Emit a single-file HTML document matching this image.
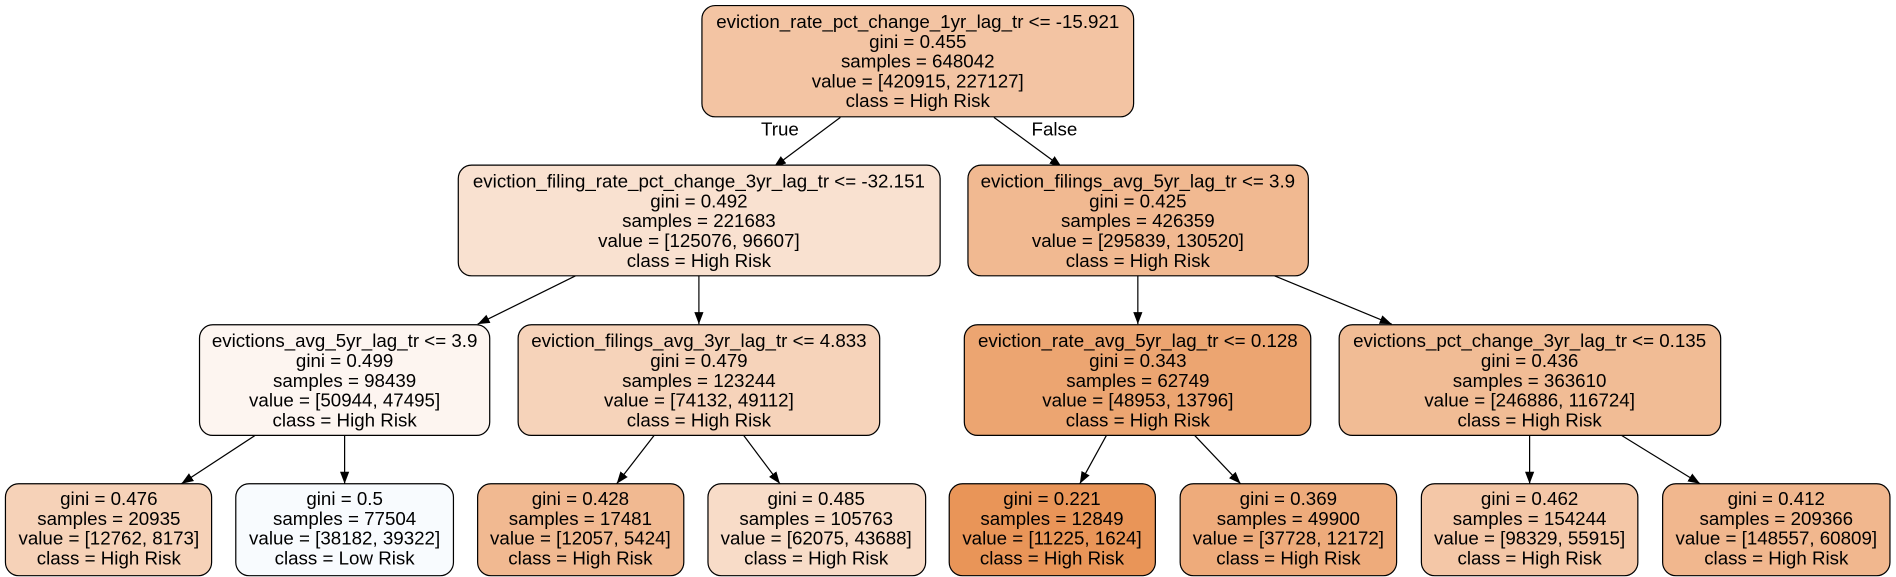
<!DOCTYPE html>
<html><head><meta charset="utf-8"><style>
html,body{margin:0;padding:0;background:#fff;}
svg{display:block}
text{font-family:"Liberation Sans",Arial,sans-serif;font-size:15.5px;fill:#000;text-anchor:middle}
rect{stroke:#000;stroke-width:1}
line{stroke:#000;stroke-width:1}
</style></head><body>
<svg width="1896" height="577" viewBox="0 0 1568 477" xmlns="http://www.w3.org/2000/svg">
<defs><marker id="a" viewBox="0 0 10 10" refX="10" refY="5" markerWidth="10" markerHeight="10" markerUnits="userSpaceOnUse" orient="auto"><path d="M0,1.2 L10,5 L0,8.8 z" fill="#000"/></marker></defs>
<g>
<line x1="695" y1="97" x2="640" y2="138" marker-end="url(#a)"/>
<line x1="822" y1="97" x2="878" y2="138" marker-end="url(#a)"/>
<line x1="476" y1="228" x2="395" y2="268" marker-end="url(#a)"/>
<line x1="578" y1="228" x2="578" y2="268" marker-end="url(#a)"/>
<line x1="941" y1="228" x2="941" y2="268" marker-end="url(#a)"/>
<line x1="1054" y1="228" x2="1151" y2="268" marker-end="url(#a)"/>
<line x1="211" y1="360" x2="150" y2="400" marker-end="url(#a)"/>
<line x1="285" y1="360" x2="285" y2="400" marker-end="url(#a)"/>
<line x1="541" y1="360" x2="510" y2="400" marker-end="url(#a)"/>
<line x1="615" y1="360" x2="645" y2="400" marker-end="url(#a)"/>
<line x1="915" y1="360" x2="893" y2="400" marker-end="url(#a)"/>
<line x1="988" y1="360" x2="1026" y2="400" marker-end="url(#a)"/>
<line x1="1265" y1="360" x2="1265" y2="400" marker-end="url(#a)"/>
<line x1="1341" y1="360" x2="1406" y2="400" marker-end="url(#a)"/>
</g>
<text x="645" y="112">True</text>
<text x="872" y="112">False</text>

<rect x="580.5" y="4.5" width="357" height="92" rx="11" fill="#f3c4a3"/>
<text x="759" y="23">eviction_rate_pct_change_1yr_lag_tr &lt;= -15.921<tspan x="759" dy="16.4">gini = 0.455</tspan><tspan x="759" dy="16.4">samples = 648042</tspan><tspan x="759" dy="16.4">value = [420915, 227127]</tspan><tspan x="759" dy="16.4">class = High Risk</tspan></text>

<rect x="379" y="136.5" width="398.5" height="91.5" rx="11" fill="#f9e1d0"/>
<text x="578" y="155">eviction_filing_rate_pct_change_3yr_lag_tr &lt;= -32.151<tspan x="578" dy="16.4">gini = 0.492</tspan><tspan x="578" dy="16.4">samples = 221683</tspan><tspan x="578" dy="16.4">value = [125076, 96607]</tspan><tspan x="578" dy="16.4">class = High Risk</tspan></text>

<rect x="800.5" y="136.5" width="281.5" height="91.5" rx="11" fill="#f1b991"/>
<text x="941" y="155">eviction_filings_avg_5yr_lag_tr &lt;= 3.9<tspan x="941" dy="16.4">gini = 0.425</tspan><tspan x="941" dy="16.4">samples = 426359</tspan><tspan x="941" dy="16.4">value = [295839, 130520]</tspan><tspan x="941" dy="16.4">class = High Risk</tspan></text>

<rect x="165" y="268.5" width="240" height="91.5" rx="11" fill="#fdf5f0"/>
<text x="285" y="287">evictions_avg_5yr_lag_tr &lt;= 3.9<tspan x="285" dy="16.4">gini = 0.499</tspan><tspan x="285" dy="16.4">samples = 98439</tspan><tspan x="285" dy="16.4">value = [50944, 47495]</tspan><tspan x="285" dy="16.4">class = High Risk</tspan></text>

<rect x="428.5" y="268.5" width="299" height="91.5" rx="11" fill="#f6d3ba"/>
<text x="578" y="287">eviction_filings_avg_3yr_lag_tr &lt;= 4.833<tspan x="578" dy="16.4">gini = 0.479</tspan><tspan x="578" dy="16.4">samples = 123244</tspan><tspan x="578" dy="16.4">value = [74132, 49112]</tspan><tspan x="578" dy="16.4">class = High Risk</tspan></text>

<rect x="797.5" y="268.5" width="286.5" height="91.5" rx="11" fill="#eca571"/>
<text x="941" y="287">eviction_rate_avg_5yr_lag_tr &lt;= 0.128<tspan x="941" dy="16.4">gini = 0.343</tspan><tspan x="941" dy="16.4">samples = 62749</tspan><tspan x="941" dy="16.4">value = [48953, 13796]</tspan><tspan x="941" dy="16.4">class = High Risk</tspan></text>

<rect x="1107.5" y="268.5" width="315.5" height="91.5" rx="11" fill="#f1bc95"/>
<text x="1265" y="287">evictions_pct_change_3yr_lag_tr &lt;= 0.135<tspan x="1265" dy="16.4">gini = 0.436</tspan><tspan x="1265" dy="16.4">samples = 363610</tspan><tspan x="1265" dy="16.4">value = [246886, 116724]</tspan><tspan x="1265" dy="16.4">class = High Risk</tspan></text>

<rect x="4.5" y="400" width="170.5" height="76" rx="11" fill="#f6d2b8"/>
<text x="90" y="417.5">gini = 0.476<tspan x="90" dy="16.4">samples = 20935</tspan><tspan x="90" dy="16.4">value = [12762, 8173]</tspan><tspan x="90" dy="16.4">class = High Risk</tspan></text>

<rect x="195" y="400" width="180" height="76" rx="11" fill="#f8fbfe"/>
<text x="285" y="417.5">gini = 0.5<tspan x="285" dy="16.4">samples = 77504</tspan><tspan x="285" dy="16.4">value = [38182, 39322]</tspan><tspan x="285" dy="16.4">class = Low Risk</tspan></text>

<rect x="395" y="400" width="170.5" height="76" rx="11" fill="#f1b991"/>
<text x="480" y="417.5">gini = 0.428<tspan x="480" dy="16.4">samples = 17481</tspan><tspan x="480" dy="16.4">value = [12057, 5424]</tspan><tspan x="480" dy="16.4">class = High Risk</tspan></text>

<rect x="585.5" y="400" width="180" height="76" rx="11" fill="#f8dcc8"/>
<text x="675" y="417.5">gini = 0.485<tspan x="675" dy="16.4">samples = 105763</tspan><tspan x="675" dy="16.4">value = [62075, 43688]</tspan><tspan x="675" dy="16.4">class = High Risk</tspan></text>

<rect x="785" y="400" width="170.5" height="76" rx="11" fill="#e99558"/>
<text x="870" y="417.5">gini = 0.221<tspan x="870" dy="16.4">samples = 12849</tspan><tspan x="870" dy="16.4">value = [11225, 1624]</tspan><tspan x="870" dy="16.4">class = High Risk</tspan></text>

<rect x="976" y="400" width="179" height="76" rx="11" fill="#eeab7b"/>
<text x="1065.5" y="417.5">gini = 0.369<tspan x="1065.5" dy="16.4">samples = 49900</tspan><tspan x="1065.5" dy="16.4">value = [37728, 12172]</tspan><tspan x="1065.5" dy="16.4">class = High Risk</tspan></text>

<rect x="1175.5" y="400" width="179" height="76" rx="11" fill="#f4c7a7"/>
<text x="1265" y="417.5">gini = 0.462<tspan x="1265" dy="16.4">samples = 154244</tspan><tspan x="1265" dy="16.4">value = [98329, 55915]</tspan><tspan x="1265" dy="16.4">class = High Risk</tspan></text>

<rect x="1375" y="400" width="188" height="76" rx="11" fill="#f1b78e"/>
<text x="1469" y="417.5">gini = 0.412<tspan x="1469" dy="16.4">samples = 209366</tspan><tspan x="1469" dy="16.4">value = [148557, 60809]</tspan><tspan x="1469" dy="16.4">class = High Risk</tspan></text>
</svg>
</body></html>
